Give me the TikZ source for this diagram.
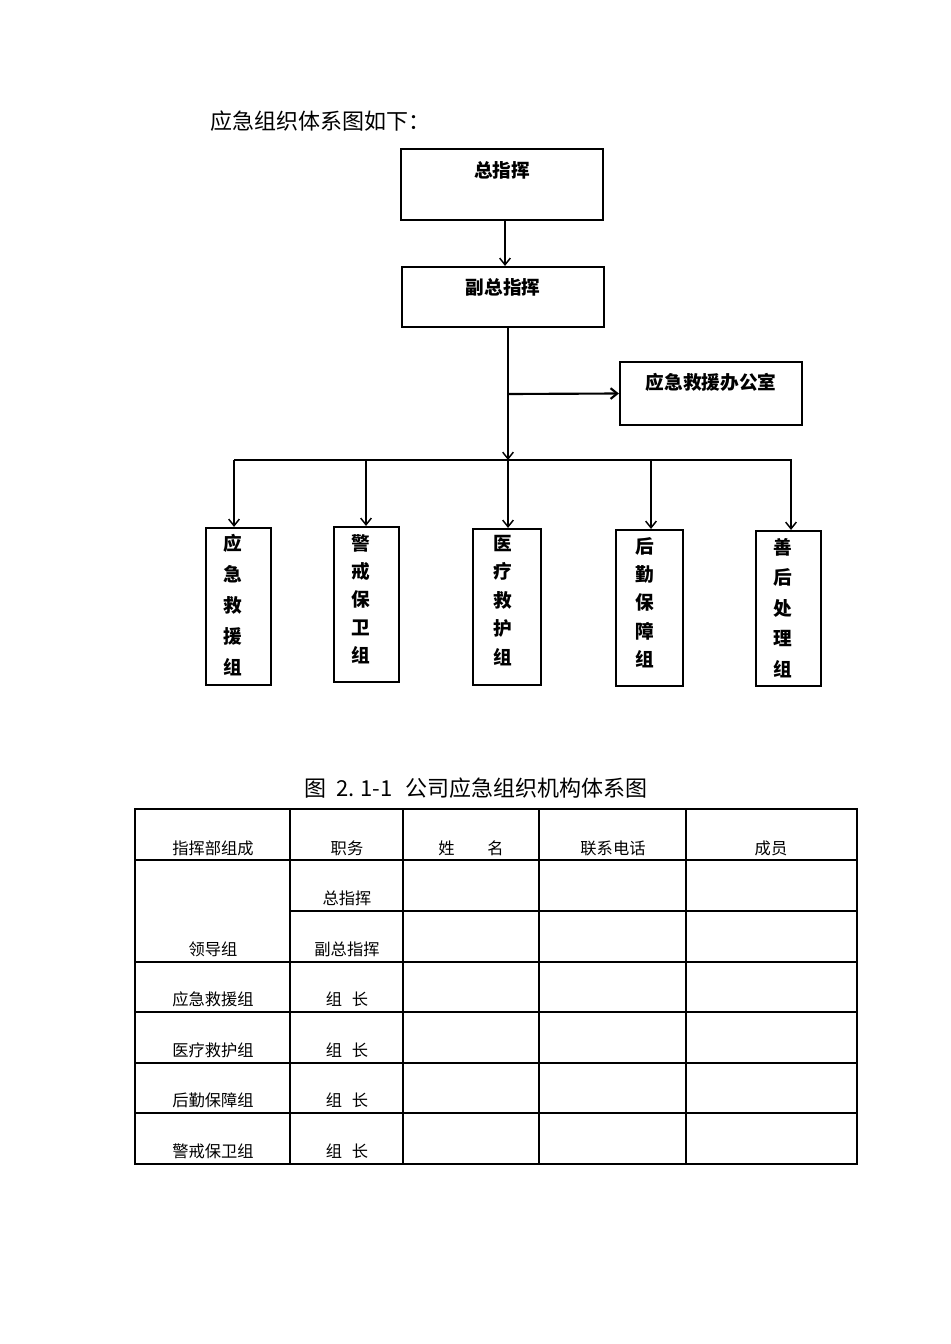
\documentclass[tikz,border=0pt]{standalone}
\usepackage{fontspec}
\setmainfont{Noto Sans CJK SC}
\newfontfamily\cjk{Noto Sans CJK SC}
\usetikzlibrary{arrows.meta}
\tikzset{
  box/.style={draw, line width=1.6pt, inner sep=0pt},
  btxt/.style={font=\cjk\bfseries\fontsize{14}{16}\selectfont, inner sep=0pt},
  vtxt/.style={font=\cjk\bfseries\fontsize{14}{#1}\selectfont, inner sep=0pt, align=center, anchor=north},
  conn/.style={line width=1.1pt},
  arr/.style={line width=1.1pt, -{Straight Barb[length=5pt,width=8pt,line width=1.1pt]}},
  arrb/.style={line width=1.6pt, -{Straight Barb[length=5pt,width=8pt,line width=1.6pt]}},
  grid/.style={line width=0.8pt},
  ttxt/.style={font=\cjk\fontsize{12.2}{14}\selectfont, inner sep=0pt},
}
\begin{document}
\begin{tikzpicture}[x=0.75pt,y=-0.75pt]
\useasboundingbox (0,0) rectangle (950,1344);
% intro
\node[font=\cjk\fontsize{16.5}{18}\selectfont, anchor=west, inner sep=0pt] (intro) at (210,121) {应急组织体系图如下：};
% top boxes
\node[box, minimum width=202*0.75pt, minimum height=71*0.75pt] (zz) at (502,184.5) {};
\node[btxt] (zzt) at (502,170) {总指挥};
\node[box, minimum width=202*0.75pt, minimum height=60*0.75pt] (fz) at (503,297) {};
\node[btxt] (fzt) at (503,287) {副总指挥};
\node[box, minimum width=182*0.75pt, minimum height=63*0.75pt] (ban) at (711,393.5) {};
\node[btxt] (bant) at (711,382) {应急救援办公室};
% group boxes
\node[box, minimum width=65*0.75pt, minimum height=157*0.75pt] (b1) at (238.5,606.5) {};
\node[box, minimum width=65*0.75pt, minimum height=155*0.75pt] (b2) at (366.5,604.5) {};
\node[box, minimum width=68*0.75pt, minimum height=156*0.75pt] (b3) at (507,607) {};
\node[box, minimum width=67*0.75pt, minimum height=156*0.75pt] (b4) at (649.5,608) {};
\node[box, minimum width=65*0.75pt, minimum height=155*0.75pt] (b5) at (788.5,608.5) {};
\node[vtxt=23.25] (b1t) at (233,534) {应\\急\\救\\援\\组};
\node[vtxt=21] (b2t) at (361,534) {警\\戒\\保\\卫\\组};
\node[vtxt=21.3] (b3t) at (503,535) {医\\疗\\救\\护\\组};
\node[vtxt=21.2] (b4t) at (645,537) {后\\勤\\保\\障\\组};
\node[vtxt=22.9] (b5t) at (783,538) {善\\后\\处\\理\\组};
% connectors
\coordinate (j) at (508,394);
\coordinate (bar) at (508,460);
\draw[arr] (zz.south -| 505,0) -- (fz.north -| 505,0);
\draw[conn] (fz.south -| j) -- (j);
\draw[arr] (j) -- (bar);
\draw[arrb] (j) -- (ban.west);
\draw[conn] (234,460) -- (792,460);
\draw[arr] (234,460) -- (b1.north -| 234,0);
\draw[arr] (366,460) -- (b2.north -| 366,0);
\draw[arr] (bar) -- (b3.north -| 508,0);
\draw[arr] (651,460) -- (b4.north -| 651,0);
\draw[arr] (791,460) -- (b5.north -| 791,0);
% caption
\node[font=\cjk\fontsize{16.5}{18}\selectfont, inner sep=0pt] (cap) at (476,788) {图\hspace{0.45em}2.\hspace{0.25em}1-1\hspace{0.6em}公司应急组织机构体系图};
% table grid
\draw[grid] (135,809) rectangle (857,1164);
\foreach \yy in {860,962,1012,1063,1113} \draw[grid] (135,\yy) -- (857,\yy);
\draw[grid] (290,911) -- (857,911);
\foreach \xx in {290,403,539,686} \draw[grid] (\xx,809) -- (\xx,1164);
% table text
\node[ttxt] (h1) at (213,848) {指挥部组成};
\node[ttxt] (h2) at (347,848) {职务};
\node[ttxt] (h3) at (471,848) {姓\hspace{2em}名};
\node[ttxt] (h4) at (613,848) {联系电话};
\node[ttxt] (h5) at (771,848) {成员};
\node[ttxt] (r1b) at (347,898) {总指挥};
\node[ttxt] (r2a) at (213,949) {领导组};
\node[ttxt] (r2b) at (347,949) {副总指挥};
\node[ttxt] (r3a) at (213,999) {应急救援组};
\node[ttxt] (r3b) at (347,999) {组\hspace{0.6em}长};
\node[ttxt] (r4a) at (213,1050) {医疗救护组};
\node[ttxt] (r4b) at (347,1050) {组\hspace{0.6em}长};
\node[ttxt] (r5a) at (213,1100) {后勤保障组};
\node[ttxt] (r5b) at (347,1100) {组\hspace{0.6em}长};
\node[ttxt] (r6a) at (213,1151) {警戒保卫组};
\node[ttxt] (r6b) at (347,1151) {组\hspace{0.6em}长};
\end{tikzpicture}
\end{document}
